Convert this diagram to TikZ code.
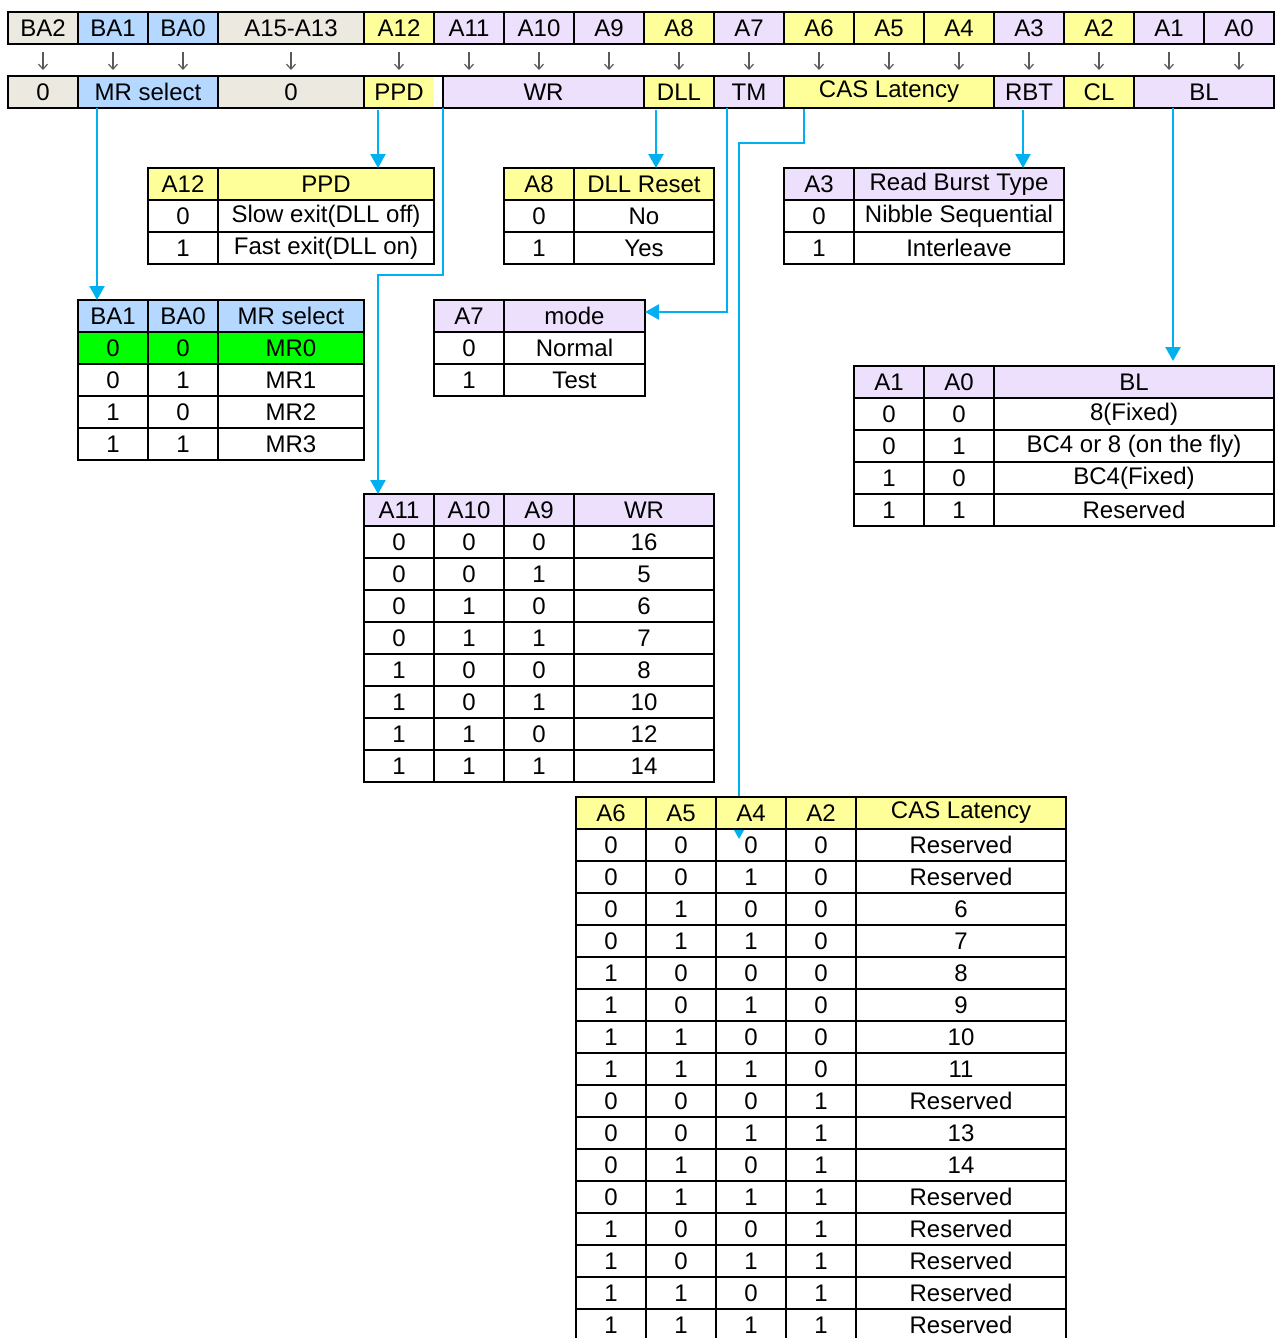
\documentclass[tikz,border=0pt]{standalone}
\usepackage{fontspec}
\setmainfont{Liberation Sans}
\usetikzlibrary{arrows.meta,calc}
\definecolor{beige}{RGB}{236,234,224}
\definecolor{lblue}{RGB}{180,216,255}
\definecolor{lyel}{RGB}{255,255,153}
\definecolor{lav}{RGB}{236,224,252}
\definecolor{grn}{RGB}{0,255,0}
\definecolor{cline}{RGB}{0,176,240}
\definecolor{garr}{RGB}{90,90,90}
\pgfdeclarelayer{bg}
\pgfsetlayers{bg,main}
\tikzset{
  cellbox/.style={draw=black,line width=2.4pt,minimum height=32pt,inner sep=0pt,outer sep=0pt,anchor=north west},
  bconn/.style={draw=cline,line width=2.4pt,-{Triangle[length=14pt,width=15pt]}},
  gconn/.style={draw=garr,line width=1.2pt,-{Straight Barb[length=5pt,width=9pt]}}
}
% row with one fill colour: prefix, y top, fill, list x1/x2/text
\newcommand{\trow}[4]{\foreach \xa/\xb/\tx [count=\ci] in {#4}{\node[cellbox,fill=#3,minimum width={\xb-\xa}] (#1-\ci) at (\xa,#2) {\tx};}}
% row with per-cell colours: prefix, y top, list x1/x2/text/colour
\newcommand{\crow}[3]{\foreach \xa/\xb/\tx/\cl [count=\ci] in {#3}{\node[cellbox,fill=\cl,minimum width={\xb-\xa}] (#1-\ci) at (\xa,#2) {\tx};}}
\begin{document}
\begin{tikzpicture}[x=1pt,y=-1pt,font=\fontsize{24}{28}\selectfont]
\useasboundingbox (0,0) rectangle (1276,1338);

% top register row
\crow{t}{12}{8/78/BA2/beige, 78/148/BA1/lblue, 148/218/BA0/lblue, 218/364/A15-A13/beige,
  364/434/A12/lyel, 434/504/A11/lav, 504/574/A10/lav, 574/644/A9/lav, 644/714/A8/lyel,
  714/784/A7/lav, 784/854/A6/lyel, 854/924/A5/lyel, 924/994/A4/lyel, 994/1064/A3/lav,
  1064/1134/A2/lyel, 1134/1204/A1/lav, 1204/1274/A0/lav}

% second row (fields)
\crow{r2}{76}{8/78/0/beige, 78/218/MR select/lblue, 218/364/0/beige}
\node[cellbox,fill=lyel,minimum width=79,
  path picture={\fill[white] ([xshift=-9pt]path picture bounding box.north east) rectangle (path picture bounding box.south east);}]
  (r2-4) at (364,76) {\hspace*{-9pt}PPD};
\node[cellbox,fill=lav,minimum width=201] (r2-5) at (443,76) {WR};
\node[cellbox,fill=lyel,minimum width=70] (r2-6) at (644,76) {DLL};
\node[cellbox,fill=lav,minimum width=70] (r2-7) at (714,76) {TM};
\node[cellbox,fill=lyel,minimum width=210] (r2-8) at (784,76) {CAS Latency};
\node[cellbox,fill=lav,minimum width=70] (r2-9) at (994,76) {RBT};
\node[cellbox,fill=lyel,minimum width=70] (r2-10) at (1064,76) {CL};
\node[cellbox,fill=lav,minimum width=140] (r2-11) at (1134,76) {BL};

% gray bit arrows
\foreach \i in {1,...,17}
  \draw[gconn,shorten <=8pt,shorten >=6pt] (t-\i.south) -- (t-\i.south |- r2-1.north);

% PPD table
\trow{ppd-1}{168}{lyel}{148/218/A12, 218/434/PPD}
\trow{ppd-2}{200}{white}{148/218/0, 218/434/Slow exit(DLL off)}
\trow{ppd-3}{232}{white}{148/218/1, 218/434/Fast exit(DLL on)}

% DLL table
\trow{dll-1}{168}{lyel}{504/574/A8, 574/714/DLL Reset}
\trow{dll-2}{200}{white}{504/574/0, 574/714/No}
\trow{dll-3}{232}{white}{504/574/1, 574/714/Yes}

% RBT table
\trow{rbt-1}{168}{lav}{784/854/A3, 854/1064/Read Burst Type}
\trow{rbt-2}{200}{white}{784/854/0, 854/1064/Nibble Sequential}
\trow{rbt-3}{232}{white}{784/854/1, 854/1064/Interleave}

% MR select table
\trow{mr-1}{300}{lblue}{78/148/BA1, 148/218/BA0, 218/364/MR select}
\trow{mr-2}{332}{grn}{78/148/0, 148/218/0, 218/364/MR0}
\trow{mr-3}{364}{white}{78/148/0, 148/218/1, 218/364/MR1}
\trow{mr-4}{396}{white}{78/148/1, 148/218/0, 218/364/MR2}
\trow{mr-5}{428}{white}{78/148/1, 148/218/1, 218/364/MR3}

% mode table
\trow{mode-1}{300}{lav}{434/504/A7, 504/645/mode}
\trow{mode-2}{332}{white}{434/504/0, 504/645/Normal}
\trow{mode-3}{364}{white}{434/504/1, 504/645/Test}

% BL table
\trow{bl-1}{366}{lav}{854/924/A1, 924/994/A0, 994/1274/BL}
\trow{bl-2}{398}{white}{854/924/0, 924/994/0, 994/1274/8(Fixed)}
\trow{bl-3}{430}{white}{854/924/0, 924/994/1, 994/1274/BC4 or 8 (on the fly)}
\trow{bl-4}{462}{white}{854/924/1, 924/994/0, 994/1274/BC4(Fixed)}
\trow{bl-5}{494}{white}{854/924/1, 924/994/1, 994/1274/Reserved}

% WR table
\trow{wr-1}{494}{lav}{364/434/A11, 434/504/A10, 504/574/A9, 574/714/WR}
\trow{wr-2}{526}{white}{364/434/0, 434/504/0, 504/574/0, 574/714/16}
\trow{wr-3}{558}{white}{364/434/0, 434/504/0, 504/574/1, 574/714/5}
\trow{wr-4}{590}{white}{364/434/0, 434/504/1, 504/574/0, 574/714/6}
\trow{wr-5}{622}{white}{364/434/0, 434/504/1, 504/574/1, 574/714/7}
\trow{wr-6}{654}{white}{364/434/1, 434/504/0, 504/574/0, 574/714/8}
\trow{wr-7}{686}{white}{364/434/1, 434/504/0, 504/574/1, 574/714/10}
\trow{wr-8}{718}{white}{364/434/1, 434/504/1, 504/574/0, 574/714/12}
\trow{wr-9}{750}{white}{364/434/1, 434/504/1, 504/574/1, 574/714/14}

% CAS latency table
\trow{cas-1}{797}{lyel}{576/646/A6, 646/716/A5, 716/786/A4, 786/856/A2, 856/1066/CAS Latency}
\trow{cas-2}{829}{none}{576/646/0, 646/716/0, 716/786/0, 786/856/0, 856/1066/Reserved}
\trow{cas-3}{861}{none}{576/646/0, 646/716/0, 716/786/1, 786/856/0, 856/1066/Reserved}
\trow{cas-4}{893}{none}{576/646/0, 646/716/1, 716/786/0, 786/856/0, 856/1066/6}
\trow{cas-5}{925}{none}{576/646/0, 646/716/1, 716/786/1, 786/856/0, 856/1066/7}
\trow{cas-6}{957}{none}{576/646/1, 646/716/0, 716/786/0, 786/856/0, 856/1066/8}
\trow{cas-7}{989}{none}{576/646/1, 646/716/0, 716/786/1, 786/856/0, 856/1066/9}
\trow{cas-8}{1021}{none}{576/646/1, 646/716/1, 716/786/0, 786/856/0, 856/1066/10}
\trow{cas-9}{1053}{none}{576/646/1, 646/716/1, 716/786/1, 786/856/0, 856/1066/11}
\trow{cas-10}{1085}{none}{576/646/0, 646/716/0, 716/786/0, 786/856/1, 856/1066/Reserved}
\trow{cas-11}{1117}{none}{576/646/0, 646/716/0, 716/786/1, 786/856/1, 856/1066/13}
\trow{cas-12}{1149}{none}{576/646/0, 646/716/1, 716/786/0, 786/856/1, 856/1066/14}
\trow{cas-13}{1181}{none}{576/646/0, 646/716/1, 716/786/1, 786/856/1, 856/1066/Reserved}
\trow{cas-14}{1213}{none}{576/646/1, 646/716/0, 716/786/0, 786/856/1, 856/1066/Reserved}
\trow{cas-15}{1245}{none}{576/646/1, 646/716/0, 716/786/1, 786/856/1, 856/1066/Reserved}
\trow{cas-16}{1277}{none}{576/646/1, 646/716/1, 716/786/0, 786/856/1, 856/1066/Reserved}
\trow{cas-17}{1309}{none}{576/646/1, 646/716/1, 716/786/1, 786/856/1, 856/1066/Reserved}

% connector x positions / bends
\coordinate (xMR) at (97,0);
\coordinate (xPPD) at (378,0);
\coordinate (yWR) at (0,275);
\coordinate (xDLL) at (656,0);
\coordinate (xTM) at (727,0);
\coordinate (casA) at (804,143);
\coordinate (casB) at (739,143);
\coordinate (xRBT) at (1023,0);
\coordinate (xBL) at (1173,0);

% blue connectors
\draw[bconn] (r2-2.south -| xMR) -- (mr-1-1.north -| xMR);
\draw[bconn,shorten <=2pt] (r2-4.south -| xPPD) -- (ppd-1-2.north -| xPPD);
\draw[bconn] (r2-5.south west) |- (yWR -| xPPD) -- (wr-1-1.north -| xPPD);
\draw[bconn,shorten <=2pt] (r2-6.south -| xDLL) -- (dll-1-2.north -| xDLL);
\draw[bconn] (r2-7.south -| xTM) |- ([yshift=4pt]mode-1-2.east);
\draw[bconn,shorten <=2pt] (r2-9.south -| xRBT) -- (rbt-1-2.north -| xRBT);
\draw[bconn,shorten >=5pt] (r2-11.south -| xBL) -- (bl-1-3.north -| xBL);
\begin{pgfonlayer}{bg}
\draw[bconn] (r2-8.south -| casA) -- (casA) -- (casB) -- ($(cas-1-3.south -| casB)+(0,10)$);
\end{pgfonlayer}
\end{tikzpicture}
\end{document}
